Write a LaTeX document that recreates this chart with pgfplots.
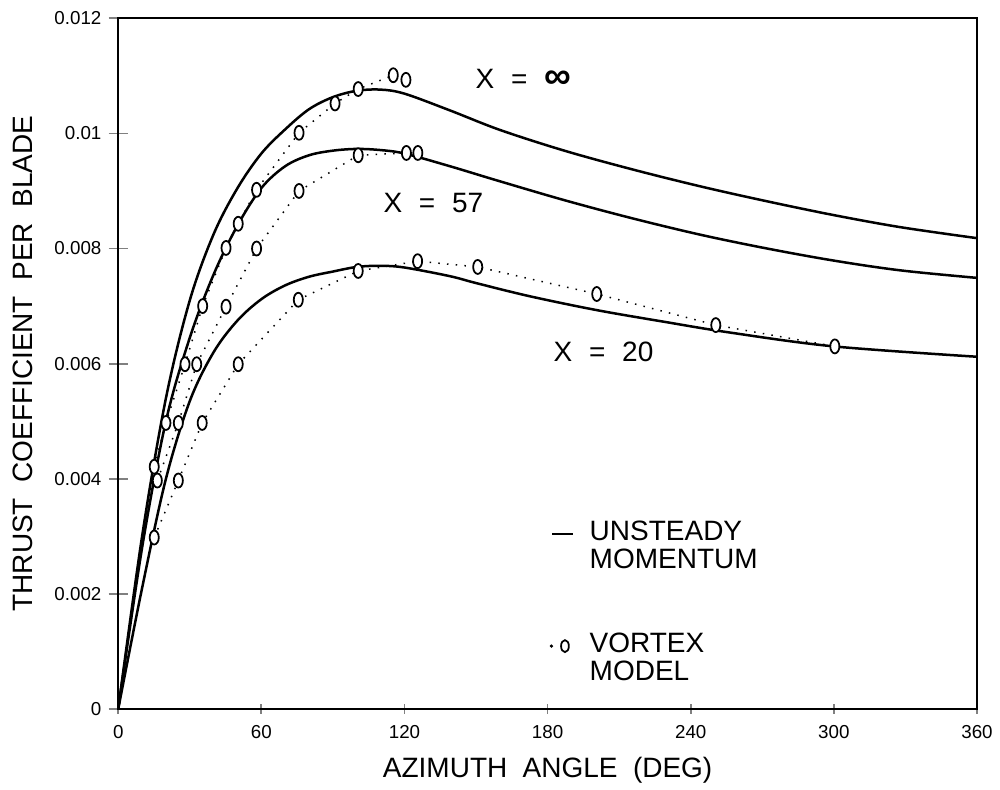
\documentclass[border=0pt]{standalone}
\usepackage{fontspec}
\setmainfont{Liberation Sans}
\usepackage{pgfplots}
\pgfplotsset{compat=1.18}

\newcommand\labelfont{\fontsize{11.2}{13.4}\selectfont}
\newcommand\tickfont{\fontsize{7.5}{9}\selectfont}
\newcommand\wsp{\hspace{0.55em}}

% unsteady momentum theory (solid curves)
\pgfplotstableread{
psi    ct
0      0
10     0.00300
20     0.00540
30     0.00710
40     0.00825
50     0.00905
60     0.00965
70     0.01007
80     0.01042
90     0.01063
100    0.01074
110    0.01076
120    0.01069
139    0.01040
160    0.01006
187    0.00970
215    0.00938
244    0.00908
272    0.00882
300    0.00858
328    0.00837
360    0.00818
}\umInf

\pgfplotstableread{
psi    ct
0      0
10     0.00280
20     0.00500
30     0.00645
40     0.00755
50     0.00840
60     0.00905
70     0.00943
80     0.00962
90     0.00970
100    0.00973
110    0.00971
120    0.00965
139    0.00943
159    0.00918
187    0.00884
215    0.00853
244    0.00824
272    0.00800
300    0.00779
328    0.00762
360    0.00749
}\umFiftySeven

\pgfplotstableread{
psi    ct
0      0
10     0.00210
20     0.00400
30     0.00535
40     0.00620
50     0.00675
60     0.00712
70     0.00736
80     0.00751
90     0.00760
100    0.00768
110    0.00770
120    0.00767
139    0.00752
150    0.00740
172.6  0.00717
200.6  0.00693
228.5  0.00673
256.5  0.00654
300    0.00630
360    0.00612
}\umTwenty

% vortex model (dotted, open symbols)
\pgfplotstableread{
psi    ct
15.1   0.00421
20.0   0.00497
28.0   0.00599
35.4   0.00700
45.2   0.00801
50.3   0.00843
58.0   0.00902
75.8   0.01001
90.9   0.01052
100.6  0.01077
115.3  0.01101
120.6  0.01093
}\vmInf

\pgfplotstableread{
psi    ct
16.4   0.00397
25.2   0.00497
32.9   0.00599
45.2   0.00699
58.0   0.00800
75.8   0.00900
100.6  0.00962
120.8  0.00966
125.6  0.00966
}\vmFiftySeven

\pgfplotstableread{
psi    ct
15.1   0.00298
25.2   0.00397
35.2   0.00497
50.3   0.00599
75.5   0.00711
100.6  0.00761
125.5  0.00778
150.7  0.00768
200.6  0.00721
250.5  0.00667
300.4  0.00630
}\vmTwenty

\begin{document}
\begin{tikzpicture}
\begin{axis}[
  name=ax,
  scale only axis,
  width=343.6pt, height=276.4pt,
  xmin=0, xmax=360, ymin=0, ymax=0.012,
  xtick={0,60,120,180,240,300,360},
  ytick={0,0.002,0.004,0.006,0.008,0.01,0.012},
  yticklabels={0,0.002,0.004,0.006,0.008,0.01,0.012},
  scaled y ticks=false,
  tick pos=left,
  tick align=center,
  axis line style={line width=0.7pt},
  xtick style={line width=0.7pt, /pgfplots/major tick length=3.7pt},
  ytick style={line width=0.7pt, /pgfplots/major tick length=7.6pt},
  /pgf/number format/assume math mode=true,
  tick label style={font=\tickfont},
  xticklabel style={inner sep=0pt, yshift=-4pt},
  yticklabel style={inner sep=0pt, xshift=-4.4pt},
  xlabel={AZIMUTH\wsp ANGLE\wsp (DEG)},
  ylabel={THRUST\wsp COEFFICIENT\wsp PER\wsp BLADE},
  label style={font=\labelfont, inner sep=0pt},
  xlabel style={at={(axis description cs:0.5,0)}, anchor=north, yshift=-19pt},
  ylabel style={at={(axis description cs:-0.099,0.5)}, anchor=south},
  legend style={draw=none, fill=none, at={(0.5026,0.2735)}, anchor=north west,
    inner sep=0pt, outer sep=0pt, row sep=0pt, column sep=6pt, font=\labelfont,
    nodes={inner sep=0pt, text height=8pt, text depth=3.2pt}},
  legend cell align=left,
  vortex/.style={line width=0.6pt, dash pattern=on 0.6pt off 2.9pt,
    mark=*, mark size=2.8pt,
    mark options={solid, xscale=0.65, line width=0.7pt, fill=white, draw=black}},
  momentum/.style={line width=1pt, smooth, tension=0.55},
]

\addlegendimage{legend image code/.code={\draw[line width=1pt] (0.8pt,0pt) -- (9.2pt,0pt);}}
\addlegendentry{UNSTEADY}
\addlegendimage{empty legend}
\addlegendentry{MOMENTUM}
\addlegendimage{empty legend}
\addlegendentry{}
\addlegendimage{empty legend}
\addlegendentry{}
\addlegendimage{legend image code/.code={
    \fill (0.4pt,0pt) circle (0.45pt);
    \draw[line width=0.7pt] plot[mark=o, mark size=2.4pt, mark options={xscale=0.65}] coordinates {(5.8pt,0pt)};}}
\addlegendentry{VORTEX}
\addlegendimage{empty legend}
\addlegendentry{MODEL}

\addplot[vortex, forget plot] table[x=psi, y=ct] {\vmInf};
\addplot[vortex, forget plot] table[x=psi, y=ct] {\vmFiftySeven};
\addplot[vortex, forget plot] table[x=psi, y=ct] {\vmTwenty};

\addplot[momentum, forget plot] table[x=psi, y=ct] {\umInf};
\addplot[momentum, forget plot] table[x=psi, y=ct] {\umFiftySeven};
\addplot[momentum, forget plot] table[x=psi, y=ct] {\umTwenty};

\node[anchor=west, font=\labelfont, inner sep=0pt] at (axis cs:149.6,0.01095)
  {X\hspace{0.6em}=\hspace{0.6em}{\fontsize{15}{15}\selectfont\bfseries ∞}};
\node[anchor=west, font=\labelfont, inner sep=0pt] at (axis cs:111,0.00879)
  {X\hspace{0.6em}=\hspace{0.6em}57};
\node[anchor=west, font=\labelfont, inner sep=0pt] at (axis cs:182.3,0.0062)
  {X\hspace{0.6em}=\hspace{0.6em}20};
\end{axis}
\pgfresetboundingbox
\path[use as bounding box] ([shift={(-47.3pt,-32pt)}]ax.south west)
  rectangle ([shift={(9.2pt,7.3pt)}]ax.north east);
\end{tikzpicture}
\end{document}
